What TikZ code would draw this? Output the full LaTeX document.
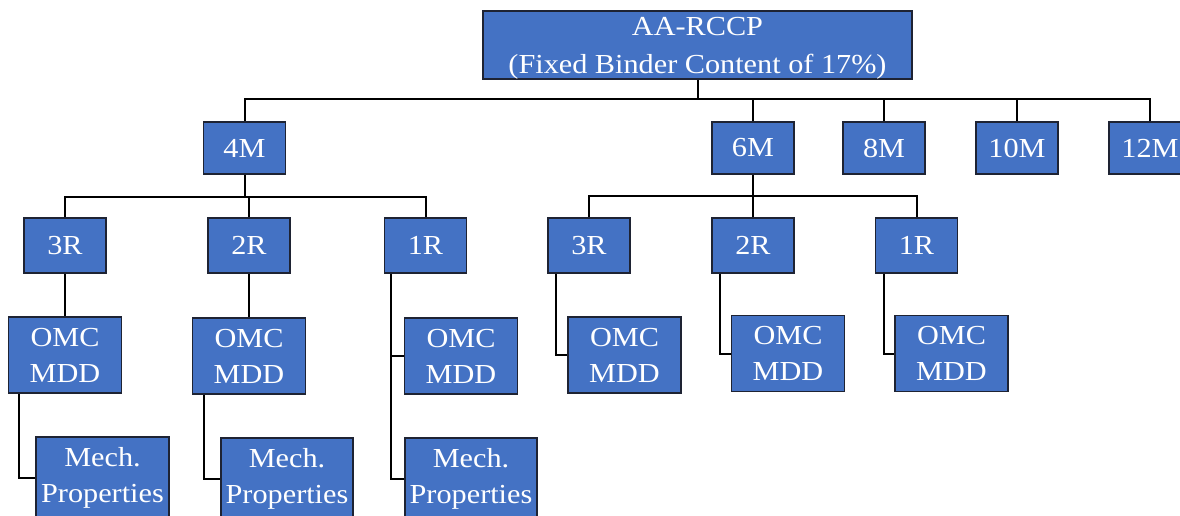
\documentclass[tikz,border=0pt]{standalone}
\usepackage{fontspec}
\setmainfont{Liberation Serif}[FakeStretch=1.1]
\usetikzlibrary{calc}
\definecolor{boxblue}{HTML}{4472C4}
\definecolor{boxline}{HTML}{1E2333}
\begin{document}
\begin{tikzpicture}[x=1pt,y=-1pt,
  box/.style={draw=boxline, fill=boxblue, text=white, line width=1.8pt, inner sep=0pt, align=center, font=\fontsize{27.5}{36}\selectfont},
  mbox/.style={box, minimum width=82pt, minimum height=52pt},
  rbox/.style={box, minimum width=82pt, minimum height=55pt},
  obox/.style={box, minimum width=113pt, minimum height=76pt},
  pbox/.style={box, minimum width=132pt, minimum height=81pt},
  link/.style={draw=black, line width=2pt}]
\clip (0,0) rectangle (1180,515);
% top
\node[box, minimum width=429pt, minimum height=64pt, font=\fontsize{27.5}{38}\selectfont] (top) at (697.5,45) {\rule{0pt}{24pt}AA-RCCP\\(Fixed Binder Content of 17\%)};
% months
\node[mbox] (m4) at (244.5,148) {4M};
\node[mbox] (m6) at (753,148) {6M};
\node[mbox] (m8) at (884,148) {8M};
\node[mbox] (m10) at (1017,148) {10M};
\node[mbox] (m12) at (1150,148) {12M};
% R under 4M
\node[rbox] (a3) at (65,245.5) {3R};
\node[rbox] (a2) at (249,245.5) {2R};
\node[rbox] (a1) at (425.5,245.5) {1R};
% R under 6M
\node[rbox] (b3) at (589,245.5) {3R};
\node[rbox] (b2) at (753,245.5) {2R};
\node[rbox] (b1) at (916.5,245.5) {1R};
% OMC MDD
\node[obox] (oa) at (65,355) {OMC\\MDD};
\node[obox] (ob) at (249,356) {OMC\\MDD};
\node[obox] (oc) at (461,356) {OMC\\MDD};
\node[obox] (od) at (624.5,355) {OMC\\MDD};
\node[obox] (oe) at (788,353.5) {OMC\\MDD};
\node[obox] (of) at (951.5,353.5) {OMC\\MDD};
% Mech
\node[pbox, minimum width=133pt] (ma) at (102.5,477.5) {Mech.\\Properties};
\node[pbox] (mb) at (287,478.5) {Mech.\\Properties};
\node[pbox] (mc) at (471,478.5) {Mech.\\Properties};
% bus coordinates
\coordinate (busM) at (0,98.5);
\coordinate (busA) at (0,197);
\coordinate (busB) at (0,196);
% top to months
\draw[link] (top.south) |- (m4.north |- busM) -- (m4.north);
\draw[link] (top.south) |- (m12.north |- busM) -- (m12.north);
\draw[link] (m6.north) -- (m6.north |- busM);
\draw[link] (m8.north) -- (m8.north |- busM);
\draw[link] (m10.north) -- (m10.north |- busM);
% 4M to R
\draw[link] (m4.south) |- (a3.north |- busA) -- (a3.north);
\draw[link] (m4.south) |- (a1.north |- busA) -- (a1.north);
\draw[link] (a2.north) -- (a2.north |- busA);
% 6M to R
\draw[link] (m6.south) |- (b3.north |- busB) -- (b3.north);
\draw[link] (m6.south) |- (b1.north |- busB) -- (b1.north);
\draw[link] (b2.north) -- (b2.north |- busB);
% R to OMC
\draw[link] (a3.south) -- (oa.north);
\draw[link] (a2.south) -- (ob.north);
\coordinate (a1s) at ($(a1.south west)+(7.5,0)$);
\draw[link] (a1s) |- (oc.west);
\draw[link] (a1s) |- (mc.west);
\coordinate (b3s) at ($(b3.south west)+(9,0)$);
\coordinate (b2s) at ($(b2.south west)+(9,0)$);
\coordinate (b1s) at ($(b1.south west)+(9,0)$);
\draw[link] (b3s) |- (od.west);
\draw[link] (b2s) |- (oe.west);
\draw[link] (b1s) |- (of.west);
% OMC to Mech
\coordinate (oas) at ($(oa.south west)+(11,0)$);
\coordinate (obs) at ($(ob.south west)+(12.5,0)$);
\draw[link] (oas) |- (ma.west);
\draw[link] (obs) |- (mb.west);
\end{tikzpicture}
\end{document}
